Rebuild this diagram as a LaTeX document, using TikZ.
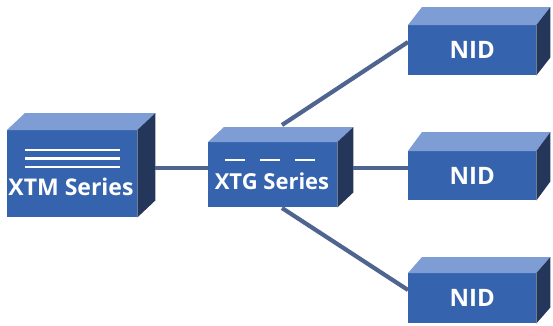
\documentclass[tikz,border=0pt]{standalone}
\usepackage{fontspec}
\setmainfont{Open Sans}
\definecolor{frontc}{HTML}{3563AE}
\definecolor{topc}{HTML}{7E9DD4}
\definecolor{sidec}{HTML}{243659}
\definecolor{linkc}{HTML}{4F6590}
\tikzset{
  front/.style={fill=frontc, draw=none, anchor=north west, inner sep=0pt, text=white, font=\bfseries\fontsize{24}{24}\selectfont},
  topface/.style={fill=topc, draw=none},
  sideface/.style={fill=sidec, draw=none},
  link/.style={draw=linkc, line width=4.2pt},
  bars/.style={draw=white, line width=2.4pt},
  lbl/.style={text=white, inner sep=0pt, font=\bfseries\fontsize{22}{22}\selectfont}
}
% #1 name, #2 x, #3 y, #4 width, #5 height, #6 dx, #7 dy, #8 text
\newcommand\devbox[8]{%
  \node[front, minimum width=#4pt, minimum height=#5pt] (#1) at (#2,#3) {#8};
  \fill[topface] (#1.north west) -- ([shift={(#6,-#7)}]#1.north west) -- ([shift={(#6,-#7)}]#1.north east) -- (#1.north east) -- cycle;
  \fill[sideface] (#1.north east) -- ([shift={(#6,-#7)}]#1.north east) -- ([shift={(#6,-#7)}]#1.south east) -- (#1.south east) -- cycle;
}
\begin{document}
\begin{tikzpicture}[x=1pt,y=-1pt]
\useasboundingbox (0,0) rectangle (553,325);
% links
\coordinate (t1) at (282,125);
\coordinate (t2) at (282,208);
\devbox{xtm}{7}{130}{130}{87}{18}{17}{}
\devbox{xtg}{208}{142}{129}{65}{16}{15}{}
\devbox{nid1}{408}{25}{128}{50}{14}{18}{NID}
\devbox{nid2}{408}{151}{128}{49}{14}{19}{NID}
\devbox{nid3}{408}{273}{128}{50}{14}{16}{NID}
\draw[link] ([xshift=18pt,yshift=0pt]xtm.east |- 0,168) coordinate (a1) -- (xtg.west |- a1);
\draw[link] ([xshift=16pt]xtg.east |- 0,168) coordinate (a2) -- (nid2.west |- a2);
\draw[link] (t1) -- (nid1.west |- 0,42);
\draw[link] (t2) -- (nid3.west |- 0,290);
% XTM decorations
\draw[bars] (25,150) coordinate (b1) -- (120,150) coordinate (b2);
\draw[bars] (25,158.5) coordinate (b3) -- (120,158.5) coordinate (b4);
\draw[bars] (25,167) coordinate (b5) -- (120,167) coordinate (b6);
\node[lbl, font=\bfseries\fontsize{23}{23}\selectfont] (xtmlbl) at (71,187) {XTM Series};
% XTG decorations
\draw[bars] (225,160) coordinate (c1) -- (245,160) coordinate (c2);
\draw[bars] (260,160) coordinate (c3) -- (280,160) coordinate (c4);
\draw[bars] (295,160) coordinate (c5) -- (315,160) coordinate (c6);
\node[lbl] (xtglbl) at (272,181) {XTG Series};
\end{tikzpicture}
\end{document}
